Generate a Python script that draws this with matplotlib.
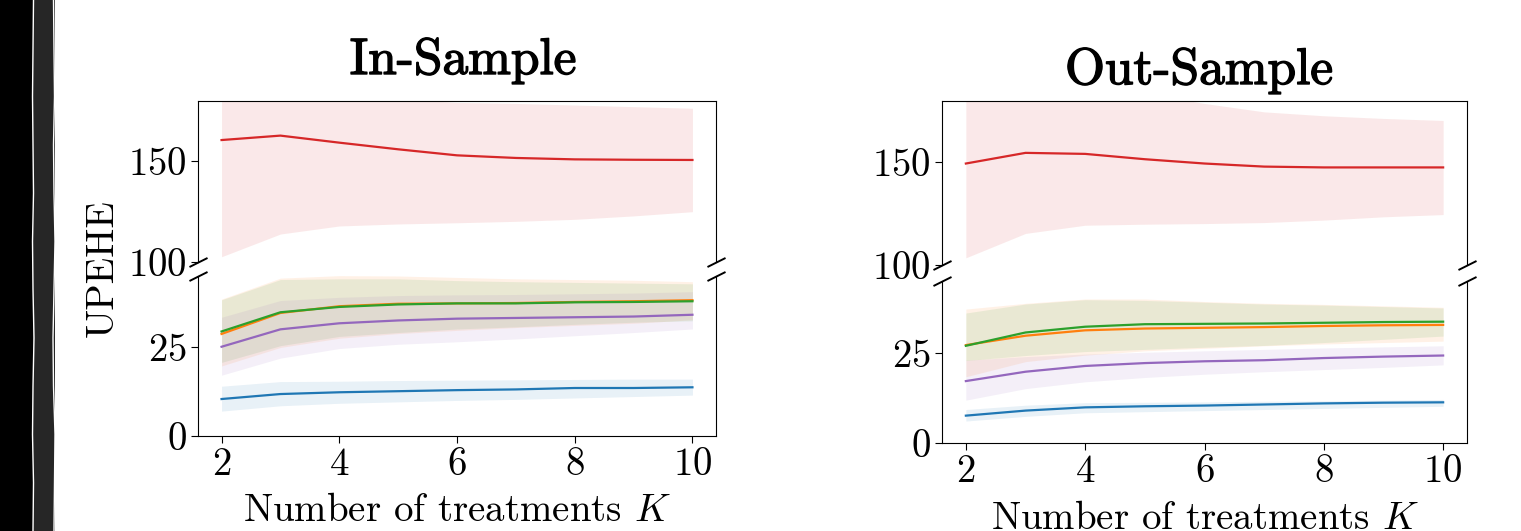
import numpy as np
import matplotlib
matplotlib.use("Agg")
import matplotlib.pyplot as plt
import matplotlib.patheffects as pe
from matplotlib.lines import Line2D
from matplotlib.patches import Rectangle

plt.rcParams["font.family"] = "serif"
plt.rcParams["font.serif"] = ["cmr10"]
plt.rcParams["mathtext.fontset"] = "cm"
plt.rcParams["axes.formatter.use_mathtext"] = True

# ---------------- data ----------------
K = [2, 3, 4, 5, 6, 7, 8, 9, 10]
colors = {"blue": "#1f77b4", "orange": "#ff7f0e", "green": "#2ca02c",
          "red": "#d62728", "purple": "#9467bd"}

# In-sample
in_blue = [10.4, 11.8, 12.3, 12.6, 12.9, 13.1, 13.5, 13.5, 13.7]
in_blue_lo = [7.0, 8.5, 9.2, 9.6, 10.0, 10.3, 10.7, 11.1, 11.5]
in_blue_hi = [14.0, 15.3, 15.4, 15.6, 15.7, 15.8, 15.9, 16.0, 16.0]
in_orange = [28.7, 34.6, 36.5, 37.2, 37.3, 37.4, 37.7, 37.9, 38.2]
in_orange_lo = [19.7, 24.9, 27.5, 28.8, 29.7, 30.5, 31.1, 31.7, 32.7]
in_orange_hi = [38.5, 44.4, 45.1, 45.0, 44.6, 44.2, 44.0, 43.8, 43.4]
in_green = [29.4, 34.8, 36.3, 37.0, 37.3, 37.3, 37.6, 37.7, 37.9]
in_green_lo = [20.7, 25.4, 28.0, 29.1, 30.1, 30.7, 31.4, 32.0, 32.4]
in_green_hi = [38.3, 44.0, 44.2, 44.2, 43.7, 43.4, 43.2, 43.0, 42.8]
in_purple = [25.1, 30.0, 31.7, 32.5, 33.0, 33.2, 33.4, 33.6, 34.1]
in_purple_lo = [17.1, 21.9, 24.6, 25.8, 26.5, 27.3, 28.2, 29.1, 30.1]
in_purple_hi = [33.4, 38.1, 39.0, 39.5, 39.7, 39.8, 40.0, 40.2, 40.6]
in_red = [160.6, 162.8, 159.3, 156.0, 153.0, 151.7, 151.0, 150.8, 150.7]
in_red_lo = [102.6, 113.9, 117.9, 118.9, 119.5, 120.2, 121.2, 122.9, 125.0]
in_red_hi = [185.0, 186.0, 184.0, 181.0, 179.3, 178.8, 178.0, 177.2, 176.4]

# Out-sample
out_blue = [7.6, 9.0, 9.9, 10.2, 10.4, 10.7, 11.0, 11.2, 11.3]
out_blue_lo = [6.1, 7.4, 8.4, 8.7, 9.0, 9.3, 9.6, 9.9, 10.2]
out_blue_hi = [9.3, 10.5, 11.2, 11.3, 11.4, 11.6, 11.7, 11.9, 12.1]
out_orange = [27.2, 29.8, 31.3, 31.8, 32.0, 32.2, 32.5, 32.7, 32.8]
out_orange_lo = [18.4, 22.6, 24.4, 25.6, 26.3, 27.0, 27.5, 27.9, 28.3]
out_orange_hi = [37.2, 38.8, 40.0, 40.0, 39.3, 38.8, 38.5, 38.1, 37.7]
out_green = [27.0, 30.7, 32.3, 33.0, 33.1, 33.2, 33.4, 33.6, 33.7]
out_green_lo = [22.9, 24.3, 25.4, 26.0, 26.6, 27.1, 27.9, 28.8, 29.7]
out_green_hi = [36.1, 38.6, 39.8, 39.6, 39.1, 38.6, 38.3, 37.9, 37.5]
out_purple = [17.2, 19.8, 21.4, 22.2, 22.7, 23.0, 23.6, 24.0, 24.3]
out_purple_lo = [11.9, 15.1, 17.0, 18.2, 19.1, 19.8, 20.4, 21.0, 21.7]
out_purple_hi = [23.0, 24.0, 24.7, 25.2, 25.6, 26.0, 26.4, 26.7, 27.0]
out_red = [149.5, 154.7, 154.2, 151.6, 149.5, 148.0, 147.6, 147.6, 147.6]
out_red_lo = [103.5, 115.4, 119.4, 119.9, 120.2, 120.7, 121.9, 123.5, 124.6]
out_red_hi = [190.0, 190.0, 190.0, 183.8, 178.8, 174.7, 172.8, 171.5, 170.5]

titles = ["In-Sample", "Out-Sample"]
xlabel = r"Number of treatments $K$"
ylabel = "UPEHE"

panels = [
    [("blue", in_blue, in_blue_lo, in_blue_hi),
     ("orange", in_orange, in_orange_lo, in_orange_hi),
     ("green", in_green, in_green_lo, in_green_hi),
     ("purple", in_purple, in_purple_lo, in_purple_hi),
     ("red", in_red, in_red_lo, in_red_hi)],
    [("blue", out_blue, out_blue_lo, out_blue_hi),
     ("orange", out_orange, out_orange_lo, out_orange_hi),
     ("green", out_green, out_green_lo, out_green_hi),
     ("purple", out_purple, out_purple_lo, out_purple_hi),
     ("red", out_red, out_red_lo, out_red_hi)],
]

upper_ylim = (100, 180)
lower_ylim = (0, 45)
upper_ticks = [100, 150]
lower_ticks = [0, 25]
xticks = [2, 4, 6, 8, 10]

# ---------------- figure ----------------
W, H = 1521, 531
fig = plt.figure(figsize=(W / 100, H / 100), dpi=100)


def px_axes(x0, x1, ytop, ybot):
    return fig.add_axes([x0 / W, (H - ybot) / H, (x1 - x0) / W, (ybot - ytop) / H])


# layout in pixels: (x0, x1, upper top, upper bottom, lower top, lower bottom,
#                    title centre x, title baseline y, xlabel pad)
layouts = [(198, 716, 101, 262, 276, 436, 463, 74, 7),
           (942, 1467, 101, 265, 281, 443, 1199, 84, 8)]

FS = 28
for title, series, (x0, x1, ut, ub, lt, lb, tx, ty, lpad) in zip(titles, panels, layouts):
    ax_u = px_axes(x0, x1, ut, ub)
    ax_l = px_axes(x0, x1, lt, lb)
    for name, m, lo, hi in series:
        c = colors[name]
        for ax in (ax_u, ax_l):
            ax.fill_between(K, lo, hi, color=c, alpha=0.1, linewidth=0)
            ax.plot(K, m, color=c, linewidth=1.6)
    ax_u.set_ylim(*upper_ylim)
    ax_l.set_ylim(*lower_ylim)
    ax_u.set_yticks(upper_ticks)
    ax_l.set_yticks(lower_ticks)
    ax_l.set_xticks(xticks)
    ax_u.set_xlim(ax_l.get_xlim())
    ax_u.spines["bottom"].set_visible(False)
    ax_l.spines["top"].set_visible(False)
    ax_u.tick_params(axis="x", bottom=False, labelbottom=False)
    for ax in (ax_u, ax_l):
        ax.tick_params(labelsize=FS, length=5, width=0.8, pad=3)
    ax_l.set_xlabel(xlabel, fontsize=FS, labelpad=lpad)
    fig.text(tx / W, 1 - ty / H, title, fontsize=37, ha="center", va="baseline",
             path_effects=[pe.withStroke(linewidth=1.0, foreground="black")])
    # break marks
    d = 0.5
    kw = dict(marker=[(-1, -d), (1, d)], markersize=13, linestyle="none",
              color="k", mec="k", mew=1.4, clip_on=False)
    ax_u.plot([0, 1], [0, 0], transform=ax_u.transAxes, **kw)
    ax_l.plot([0, 1], [1, 1], transform=ax_l.transAxes, **kw)

fig.text(103 / W, 1 - 268 / H, ylabel, rotation=90, fontsize=FS,
         ha="center", va="center")

# decorative strip at the left edge
fig.patches.append(Rectangle((0, 0), 33 / W, 1, transform=fig.transFigure,
                             facecolor="black", edgecolor="none", zorder=-5))
fig.patches.append(Rectangle((33 / W, 0), 22 / W, 1, transform=fig.transFigure,
                             facecolor="#262626", edgecolor="none", zorder=-5))
ys = np.linspace(0, 1, 12)
x_a = [33, 33.5, 32.5, 33, 34, 33, 32.5, 33.5, 33, 32.5, 33, 33.5]
x_b = [54, 54.5, 55, 53.5, 53, 54, 55, 54, 53.5, 54.5, 54, 53.5]
fig.lines.append(Line2D(np.array(x_a) / W, ys, transform=fig.transFigure,
                        color="white", linewidth=1.0))
fig.lines.append(Line2D(np.array(x_b) / W, ys, transform=fig.transFigure,
                        color="white", linewidth=1.0))

fig.savefig("out.png", dpi=100)
